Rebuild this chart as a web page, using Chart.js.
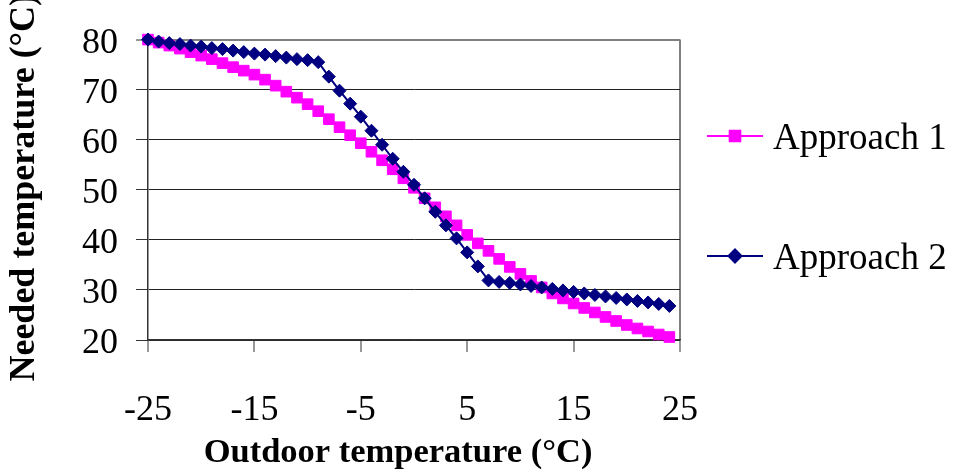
<!DOCTYPE html>
<html><head><meta charset="utf-8">
<script src="https://cdn.jsdelivr.net/npm/chart.js@4.4.1/dist/chart.umd.min.js"></script>
<style>html,body{margin:0;padding:0;background:#fff;} #wrap{width:953px;height:475px;position:relative;}</style>
</head><body><div id="wrap"><canvas id="c"></canvas></div>
<script>
const outdoor = [-25,-24,-23,-22,-21,-20,-19,-18,-17,-16,-15,-14,-13,-12,-11,-10,-9,-8,-7,-6,-5,-4,-3,-2,-1,0,1,2,3,4,5,6,7,8,9,10,11,12,13,14,15,16,17,18,19,20,21,22,23,24];
const approach1 = [80.0,79.4,78.8,78.2,77.5,76.8,76.1,75.3,74.5,73.8,73.0,72.0,70.8,69.6,68.4,67.1,65.7,64.1,62.5,60.9,59.3,57.6,55.9,54.1,52.3,50.4,48.3,46.5,44.7,42.9,41.0,39.3,37.8,36.2,34.6,33.2,31.8,30.5,29.3,28.3,27.3,26.4,25.5,24.6,23.8,23.0,22.3,21.7,21.1,20.6];
const approach2 = [80.0,79.6,79.3,79.1,78.8,78.6,78.3,78.1,77.8,77.5,77.2,77.0,76.7,76.4,76.1,75.9,75.5,72.6,69.8,67.2,64.6,61.8,59.0,56.2,53.6,51.0,48.3,45.6,42.9,40.3,37.5,34.7,31.9,31.6,31.4,31.1,30.8,30.5,30.2,29.9,29.6,29.3,29.0,28.7,28.4,28.1,27.8,27.5,27.2,26.8];
const xTickValues = [-25,-15,-5,5,15,25];
const yMin = 20, yMax = 80, yStep = 10;
const seriesNames = ['Approach 1','Approach 2'];
const xTitle = 'Outdoor temperature (°C)';
const yTitle = 'Needed temperature (°C)';
const FONT = "'Liberation Serif', 'Times New Roman', serif";

const axisTitles = {
  id: 'axisTitles',
  afterDraw(chart, args, opts) {
    const ctx = chart.ctx;
    const ca = chart.chartArea;
    ctx.save();
    ctx.fillStyle = '#000';
    ctx.textAlign = 'center';
    ctx.textBaseline = 'middle';
    ctx.font = 'bold ' + opts.xSize + 'px ' + FONT;
    ctx.fillText(xTitle, (ca.left + ca.right) / 2 + opts.xDx, opts.xY);
    ctx.translate(opts.yX, (ca.top + ca.bottom) / 2 + opts.yDy);
    ctx.rotate(-Math.PI / 2);
    ctx.font = 'bold ' + opts.ySize + 'px ' + FONT;
    ctx.fillText(yTitle, 0, 0);
    ctx.restore();
  }
};

const lineLegend = {
  id: 'lineLegend',
  afterDraw(chart, args, opts) {
    const ctx = chart.ctx;
    chart.data.datasets.forEach((ds, i) => {
      const y = opts.top + i * opts.gap;
      ctx.save();
      ctx.strokeStyle = ds.borderColor;
      ctx.lineWidth = 2;
      ctx.beginPath();
      ctx.moveTo(opts.x, y);
      ctx.lineTo(opts.x + opts.lineLen, y);
      ctx.stroke();
      ctx.fillStyle = ds.pointBackgroundColor;
      ctx.strokeStyle = ds.pointBorderColor;
      Chart.helpers.drawPoint(ctx, {pointStyle: ds.pointStyle, radius: ds.pointRadius, borderWidth: 1, rotation: 0}, opts.x + opts.lineLen / 2, y);
      ctx.font = opts.size + 'px ' + FONT;
      ctx.fillStyle = '#000';
      ctx.textAlign = 'left';
      ctx.textBaseline = 'middle';
      ctx.fillText(ds.label, opts.x + opts.lineLen + opts.textGap, y + opts.textDy);
      ctx.restore();
    });
  }
};

new Chart(document.getElementById('c'), {
  type: 'line',
  data: {
    datasets: [
      {
        label: seriesNames[0],
        data: outdoor.map((x, i) => ({x: x, y: approach1[i]})),
        borderColor: '#FF00FF', backgroundColor: '#FF00FF',
        pointStyle: 'rect', pointRadius: 7.5, pointHoverRadius: 7.5,
        pointBackgroundColor: '#FF00FF', pointBorderColor: '#FF00FF', pointBorderWidth: 1,
        borderWidth: 2, tension: 0, order: 1, clip: false
      },
      {
        label: seriesNames[1],
        data: outdoor.map((x, i) => ({x: x, y: approach2[i]})),
        borderColor: '#000080', backgroundColor: '#000080',
        pointStyle: 'rectRot', pointRadius: 6.5, pointHoverRadius: 6.5,
        pointBackgroundColor: '#000080', pointBorderColor: '#000080', pointBorderWidth: 1,
        borderWidth: 2, tension: 0, order: 0, clip: false
      }
    ]
  },
  options: {
    responsive: true, maintainAspectRatio: false, animation: false, devicePixelRatio: 1,
    layout: {padding: {left: 0, top: 38, right: 273, bottom: 0}},
    plugins: {
      legend: {display: false},
      tooltip: {enabled: false},
      axisTitles: {xSize: 34.5, xDx: -16, xY: 453, ySize: 36, yX: 25, yDy: -2},
      lineLegend: {x: 707, lineLen: 56, textGap: 10, top: 136, gap: 120, size: 37, textDy: 3}
    },
    scales: {
      x: {
        type: 'linear', min: -25, max: 25,
        afterBuildTicks: s => { s.ticks = xTickValues.map(v => ({value: v})); },
        afterFit: s => { s.height = 135; },
        ticks: {font: {family: FONT, size: 36}, color: '#000', padding: 37, maxRotation: 0, autoSkip: false},
        grid: {
          drawOnChartArea: true,
          color: c => (c.tick && c.tick.value === 25) ? '#808080' : 'rgba(0,0,0,0)',
          lineWidth: 2, tickLength: 12, tickColor: '#333', tickWidth: 1
        },
        border: {display: true, color: '#333', width: 1.5}
      },
      y: {
        min: yMin, max: yMax,
        afterFit: s => { s.width = 148; },
        ticks: {stepSize: yStep, font: {family: FONT, size: 36}, color: '#000', padding: 18, labelOffset: 4},
        grid: {
          color: c => (c.tick && c.tick.value === 80) ? '#808080' : '#222',
          lineWidth: c => (c.tick && c.tick.value === 80) ? 2 : 1,
          tickLength: 12, tickColor: '#333', tickWidth: 1
        },
        border: {color: '#333', width: 1.5}
      }
    }
  },
  plugins: [axisTitles, lineLegend]
});
</script>
</body></html>
